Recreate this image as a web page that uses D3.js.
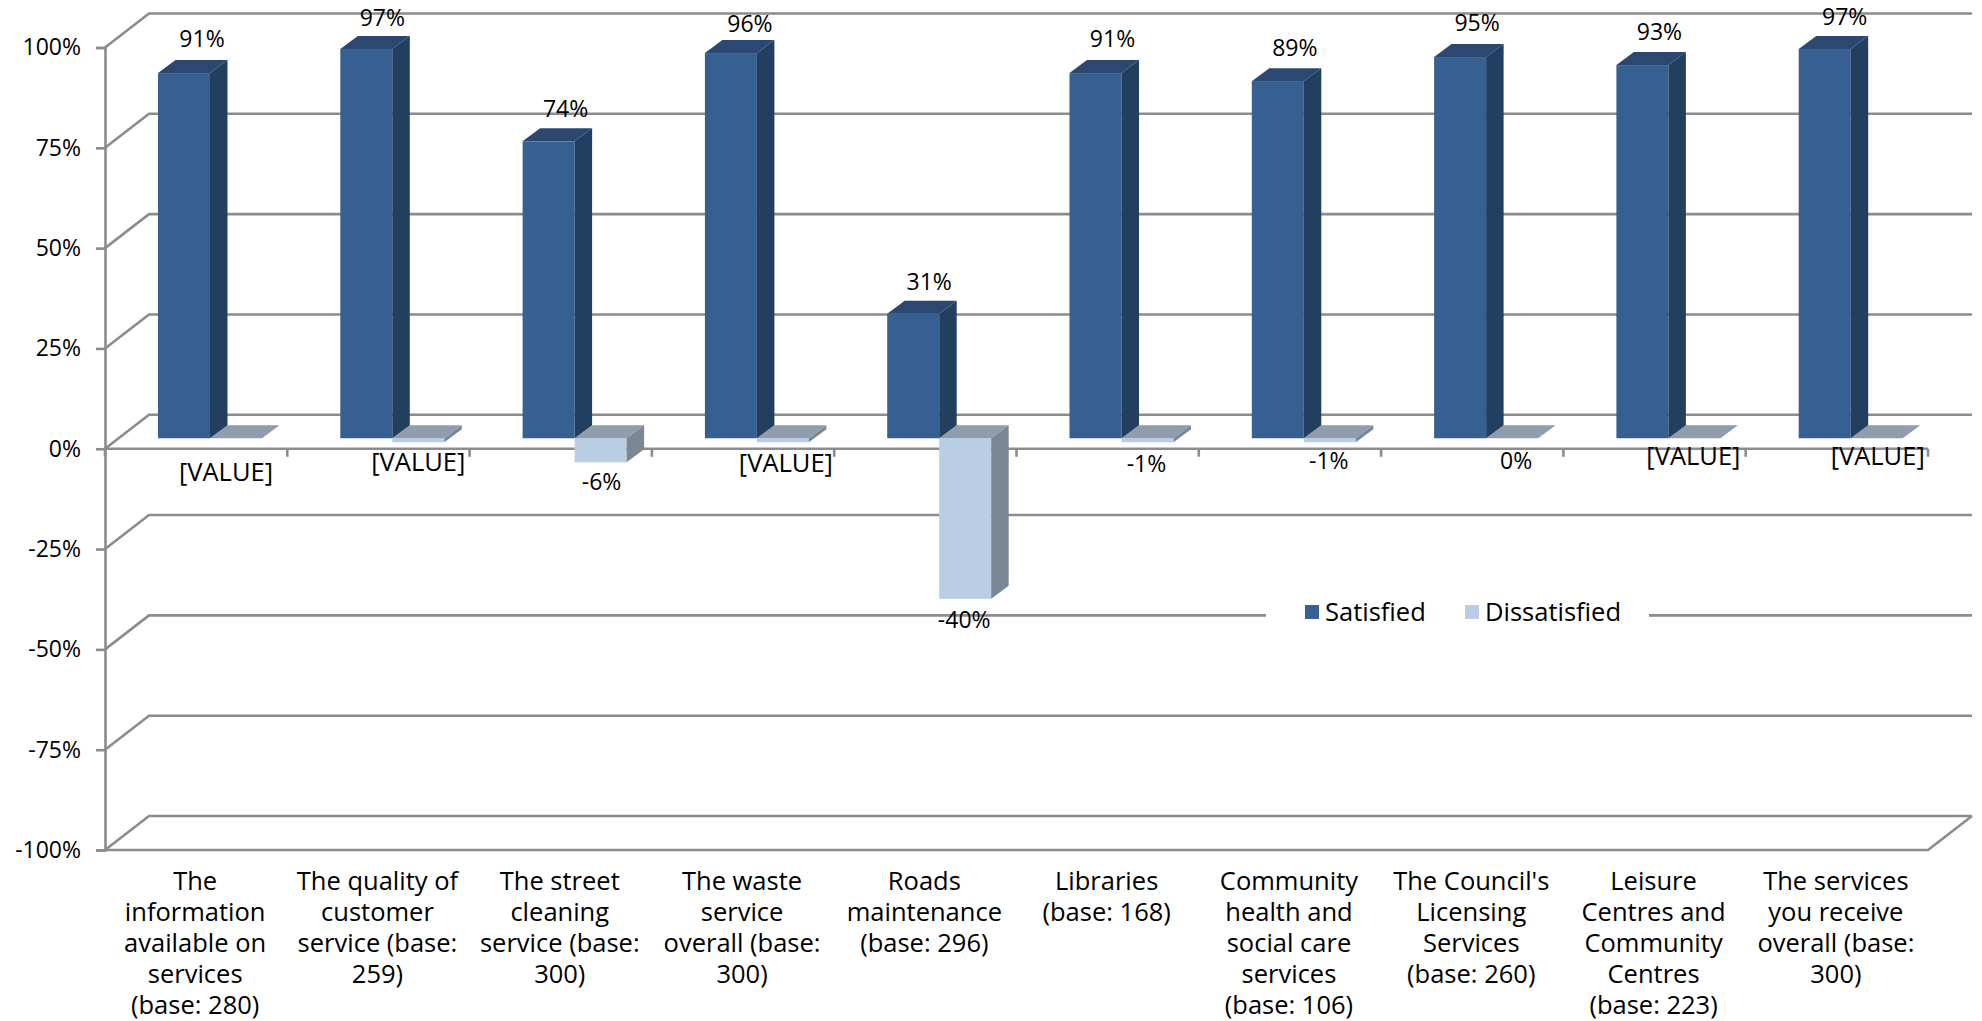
<!DOCTYPE html>
<html>
<head>
<meta charset="utf-8">
<script src="https://cdn.jsdelivr.net/npm/d3@7"></script>
<style>
  html, body { margin: 0; background: #fff; }
  svg { display: block; }
  text { font-family: "Open Sans", "Noto Sans", sans-serif; fill: #000; }
</style>
</head>
<body>
<svg id="chart" width="1982" height="1021"></svg>
<script>
const categoryLines = [
  ["The", "information", "available on", "services", "(base: 280)"],
  ["The quality of", "customer", "service (base:", "259)"],
  ["The street", "cleaning", "service (base:", "300)"],
  ["The waste", "service", "overall (base:", "300)"],
  ["Roads", "maintenance", "(base: 296)"],
  ["Libraries", "(base: 168)"],
  ["Community", "health and", "social care", "services", "(base: 106)"],
  ["The Council's", "Licensing", "Services", "(base: 260)"],
  ["Leisure", "Centres and", "Community", "Centres", "(base: 223)"],
  ["The services", "you receive", "overall (base:", "300)"]
];
const satisfied = [91, 97, 74, 96, 31, 91, 89, 95, 93, 97];
const dissatisfied = [0, -1, -6, -1, -40, -1, -1, 0, 0, 0];
const dissatisfiedLabels = ["[VALUE]", "[VALUE]", "-6%", "[VALUE]", "-40%", "-1%", "-1%", "0%", "[VALUE]", "[VALUE]"];
const yTicks = [100, 75, 50, 25, 0, -25, -50, -75, -100];

// Per-label placement tweaks for the data labels above and below the columns
const highLabelDx = [18, 16, 17, 19, 16, 17, 17, 17, 17, 20];
const highLabelDy = [-34, -31, -32, -29, -32, -34, -33, -34, -33, -32];
const lowLabelDx = [-10, 0, 1, 3, -1, -1, -1, 4, -1, 1];
const lowLabelDy = [34, 20, 20, 21, 21, 22, 19, 23, 18, 18];

const svg = d3.select("#chart");
const depthX = 44, depthY = 34;          // wall and floor depth
const barDepthX = 17.5, barDepthY = 13;  // bar depth
const gridColor = "#8c8c8c";
const gridWidth = 2.6;

const x = d3.scaleBand().domain(d3.range(categoryLines.length)).range([105, 1928]);
const yAxisScale = d3.scaleLinear().domain([-100, 100]).range([850, 47.5]);
// Bars stand midway across the floor, so their zero sits behind the axis plane
const yBar = d3.scaleLinear().domain([-100, 100]).range([839.5, 37]);
const barWidth = 52, barInset = 53;

// Walls and gridlines
const grid = svg.append("g").attr("fill", "none").attr("stroke", gridColor).attr("stroke-width", gridWidth);
grid.selectAll("path.grid").data(yTicks).join("path").attr("class", "grid")
  .attr("d", d => {
    const yy = yAxisScale(d);
    return `M${x.range()[0]},${yy}L${x.range()[0] + depthX},${yy - depthY}L${x.range()[1] + depthX},${yy - depthY}`;
  });
// Floor outline
grid.append("path").attr("d", () => {
  const yy = yAxisScale(-100), [l, r] = x.range();
  return `M${l},${yy}L${r},${yy}L${r + depthX},${yy - depthY}`;
});

// Value axis
const yAxis = d3.axisLeft(yAxisScale).tickValues(yTicks).tickFormat(d => d + "%").tickSize(9).tickPadding(15);
const yG = svg.append("g").attr("transform", `translate(${x.range()[0]},0)`).call(yAxis);
yG.select(".domain").attr("stroke", gridColor).attr("stroke-width", gridWidth);
yG.selectAll(".tick line").attr("stroke", gridColor).attr("stroke-width", gridWidth);
yG.selectAll("text").attr("font-size", 23).style("font-family", '"Open Sans", sans-serif').attr("fill", "#000");

// Category axis, drawn on the zero plane with ticks between the groups
const xLineG = svg.append("g").attr("stroke", gridColor).attr("stroke-width", gridWidth);
xLineG.append("line")
  .attr("x1", x.range()[0]).attr("x2", x.range()[1])
  .attr("y1", yAxisScale(0)).attr("y2", yAxisScale(0));
xLineG.selectAll("line.tick").data(d3.range(categoryLines.length + 1)).join("line").attr("class", "tick")
  .attr("x1", i => x.range()[0] + i * x.bandwidth()).attr("x2", i => x.range()[0] + i * x.bandwidth())
  .attr("y1", yAxisScale(0)).attr("y2", yAxisScale(0) + 8);

// Draws one 3D column: front face, top face and side face
function drawColumn(g, x0, v, colors) {
  const y0 = yBar(0), yv = yBar(v);
  const topY = Math.min(y0, yv), bottomY = Math.max(y0, yv);
  const x1 = x0 + barWidth;
  g.append("rect").attr("x", x0).attr("y", topY).attr("width", barWidth).attr("height", bottomY - topY).attr("fill", colors.front);
  g.append("path").attr("fill", colors.top)
    .attr("d", `M${x0},${topY}L${x1},${topY}L${x1 + barDepthX},${topY - barDepthY}L${x0 + barDepthX},${topY - barDepthY}Z`);
  g.append("path").attr("fill", colors.side)
    .attr("d", `M${x1},${topY}L${x1 + barDepthX},${topY - barDepthY}L${x1 + barDepthX},${bottomY - barDepthY}L${x1},${bottomY}Z`);
}

const satColors = { front: "#376092", side: "#233f60", top: "#2c4770" };
const disColors = { front: "#b9cde5", side: "#7a8794", top: "#8f9dae" };

const bars = svg.append("g");
categoryLines.forEach((_, i) => {
  const x0 = x(i) + barInset;
  drawColumn(bars.append("g"), x0 + barWidth, dissatisfied[i], disColors);
  drawColumn(bars.append("g"), x0, satisfied[i], satColors);
});

// Data labels
const labels = svg.append("g").attr("font-size", 23).attr("text-anchor", "middle");
labels.selectAll("text.sat").data(satisfied).join("text").attr("class", "sat")
  .attr("x", (d, i) => x(i) + barInset + barWidth / 2 + highLabelDx[i])
  .attr("y", (d, i) => yBar(d) + highLabelDy[i])
  .attr("dy", "0.35em")
  .text(d => d + "%");
labels.selectAll("text.dis").data(dissatisfied).join("text").attr("class", "dis")
  .attr("x", (d, i) => x(i) + barInset + barWidth * 1.5 + lowLabelDx[i])
  .attr("y", (d, i) => yBar(d) + lowLabelDy[i])
  .attr("dy", "0.35em")
  .attr("font-size", (d, i) => dissatisfiedLabels[i] === "[VALUE]" ? 25.5 : 23)
  .text((d, i) => dissatisfiedLabels[i]);

// Category labels, one text element per wrapped line
const catG = svg.append("g").attr("font-size", 25.5).attr("text-anchor", "middle");
catG.selectAll("g").data(categoryLines).join("g")
  .attr("transform", (d, i) => `translate(${x(i) + x.bandwidth() / 2 - 1},881)`)
  .selectAll("text").data(d => d).join("text")
  .attr("y", (d, i) => i * 30.9)
  .attr("dy", "0.35em")
  .text(d => d);

// Legend on a white plate that interrupts the gridline
const legend = svg.append("g");
legend.append("rect").attr("x", 1266).attr("y", 590).attr("width", 383).attr("height", 50).attr("fill", "#fff");
const legendItems = [
  { name: "Satisfied", color: satColors.front, at: 1305 },
  { name: "Dissatisfied", color: disColors.front, at: 1465 }
];
legendItems.forEach(it => {
  legend.append("rect").attr("x", it.at).attr("y", 605).attr("width", 14).attr("height", 14).attr("fill", it.color);
  legend.append("text").attr("x", it.at + 20).attr("y", 612).attr("dy", "0.35em").attr("font-size", 25.5).text(it.name);
});
</script>
</body>
</html>
